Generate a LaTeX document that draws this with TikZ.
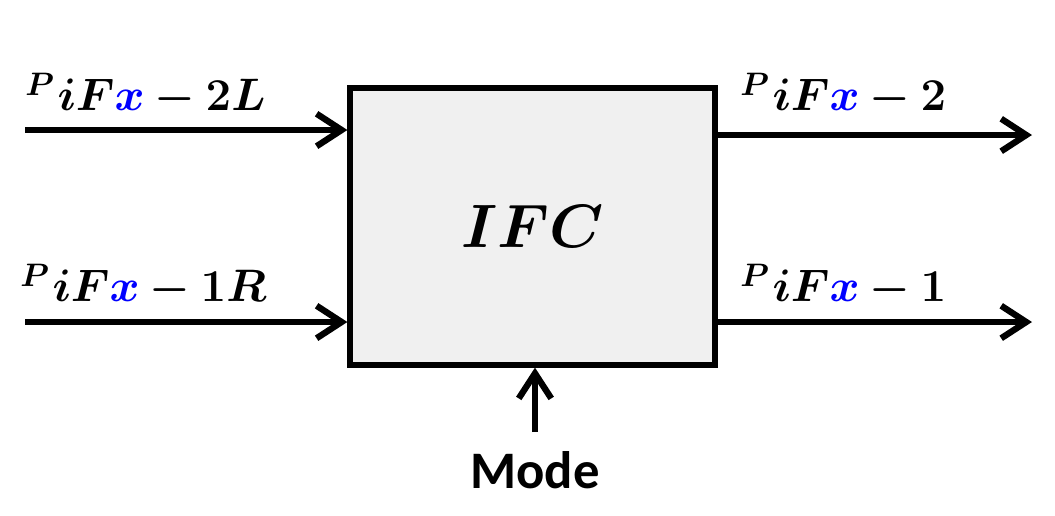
\documentclass[tikz,border=0pt]{standalone}
\usepackage{fontspec}
\usepackage{amsmath,bm,graphicx}
\newfontfamily\carl{Carlito}
\usetikzlibrary{arrows.meta}
\newcommand{\plab}[1]{\scalebox{1.85}{$\bm{P}$}\hspace{2pt}\raisebox{-0.3cm}{\scalebox{1.25}{\fontsize{22}{24}\selectfont$\bm{#1}$}}}
\begin{document}
\begin{tikzpicture}[x=0.02cm,y=-0.02cm,
  conn/.style={line width=3.4pt,-{Straight Barb[length=0.5cm,width=0.65cm,line width=3.6pt]}},
  lab/.style={inner sep=0pt,anchor=base west}]
\useasboundingbox (0,0) rectangle (1055,515);
\node[draw,line width=3pt,fill=gray!12,minimum width=7.3cm,minimum height=5.54cm,inner sep=0pt] (ifc) at (532.5,226.5) {};
\node at (ifc.center) {\scalebox{1.4}{\fontsize{34}{36}\selectfont$\bm{IFC}$}};
\coordinate (i1) at (25,130); \coordinate (i2) at (25,322);
\coordinate (o1) at (1032,135); \coordinate (o2) at (1032,322);
\coordinate (m) at (535,432);
\draw[conn] (i1) -- (i1 -| ifc.west);
\draw[conn] (i2) -- (i2 -| ifc.west);
\draw[conn] (o1 -| ifc.east) -- (o1);
\draw[conn] (o2 -| ifc.east) -- (o2);
\draw[conn] (m) -- (m |- ifc.south);
\node[lab] (l1) at (25,95) {\plab{iF{\color{blue}x}-2L}};
\node[lab] (l2) at (20,286) {\plab{iF{\color{blue}x}-1R}};
\node[lab] (l3) at (740,95) {\plab{iF{\color{blue}x}-2}};
\node[lab] (l4) at (740,286) {\plab{iF{\color{blue}x}-1}};
\node (mode) at (535,470) {\carl\bfseries\fontsize{30}{32}\selectfont Mode};
\end{tikzpicture}
\end{document}
